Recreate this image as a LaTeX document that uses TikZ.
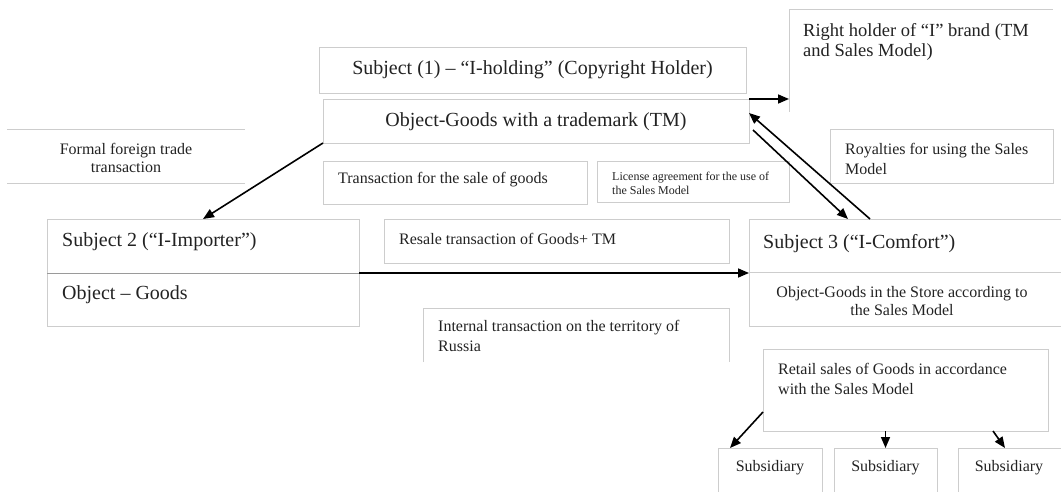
\documentclass[tikz,border=0pt]{standalone}
\usepackage{fontspec}
\setmainfont{Liberation Serif}
\usetikzlibrary{arrows.meta}
\definecolor{boxgray}{HTML}{CDCDCD}
\definecolor{rulegray}{HTML}{9A9A9A}
\definecolor{inkgray}{HTML}{222222}

\begin{document}
\begin{tikzpicture}[x=1pt, y=-1pt,
		box/.style={draw=boxgray, line width=0.8pt, inner sep=0pt, outer sep=0pt},
		frame/.style={inner sep=0pt, outer sep=0pt},
		edge/.style={draw=boxgray, line width=0.8pt},
		arr/.style={-{Triangle[length=11pt, width=9pt]}, line width=1.6pt},
		txt/.style={inner sep=0pt, text=inkgray, font=\fontsize{16}{19}\selectfont},
		big/.style={txt, font=\fontsize{20}{23}\selectfont},
		small/.style={txt, font=\fontsize{12}{14}\selectfont}]
		\useasboundingbox (0,0) rectangle (1061,492);

		\node [box, minimum width=427pt, minimum height=46pt] (0) at (532.5, 70) {};
		\node [box, minimum width=426pt, minimum height=44pt] (1) at (536, 121) {};
		\node [frame, minimum width=264pt, minimum height=103pt] (2) at (921, 60.5) {};
		\node [frame, minimum width=238pt, minimum height=54pt] (3) at (126, 156) {};
		\node [box, minimum width=264pt, minimum height=43pt] (4) at (455, 182.5) {};
		\node [box, minimum width=192pt, minimum height=41pt] (5) at (693, 181.5) {};
		\node [box, minimum width=223pt, minimum height=54pt] (6) at (941.5, 156) {};
		\node [box, minimum width=312pt, minimum height=54pt] (7) at (203, 246) {};
		\node [box, minimum width=312pt, minimum height=53pt] (8) at (203, 299.5) {};
		\node [box, minimum width=345pt, minimum height=44pt] (9) at (556.5, 241) {};
		\node [box, minimum width=314pt, minimum height=53pt] (10) at (906, 245.5) {};
		\node [box, minimum width=314pt, minimum height=54pt] (11) at (906, 299) {};
		\node [frame, minimum width=306pt, minimum height=54pt] (12) at (576, 335) {};
		\node [box, minimum width=285pt, minimum height=82pt] (13) at (905.5, 390) {};
		\node [frame, minimum width=104pt, minimum height=50pt] (14) at (770, 473) {};
		\node [frame, minimum width=103pt, minimum height=50pt] (15) at (885.5, 473) {};
		\node [frame, minimum width=104pt, minimum height=50pt] (16) at (1010, 473) {};

		\draw [edge] (2.south west) to (2.north west) to (2.north east);
		\draw [edge] (3.north west) to (3.north east);
		\draw [edge] (3.south west) to (3.south east);
		\draw [edge] (12.south west) to (12.north west) to (12.north east) to (12.south east);
		\draw [edge] (14.south west) to (14.north west) to (14.north east) to (14.south east);
		\draw [edge] (15.south west) to (15.north west) to (15.north east) to (15.south east);
		\draw [edge] (16.south west) to (16.north west) to (16.north east) to (16.south east);
		\draw [rulegray, line width=0.8pt] (7.south west) to (7.south east);

		\node [big] (20) at (532.5, 70) {Subject (1) – “I-holding” (Copyright Holder)};
		\node [big] (21) at (536, 122) {Object-Goods with a trademark (TM)};
		\node [txt, font=\fontsize{18.5}{20.5}\selectfont, anchor=west, align=left] (22) at (803, 42) {Right holder of “I” brand (TM\\and Sales Model)};
		\node [txt, align=center, font=\fontsize{16}{18}\selectfont] (23) at (126, 158) {Formal foreign trade\\transaction};
		\node [txt, anchor=west] (24) at (338, 179.6) {Transaction for the sale of goods};
		\node [small, anchor=west, align=left] (25) at (612, 183) {License agreement for the use of\\the Sales Model};
		\node [txt, anchor=west, align=left, font=\fontsize{16}{20}\selectfont] (26) at (845, 159) {Royalties for using the Sales\\Model};
		\node [big, anchor=west] (27) at (62, 242) {Subject 2 (“I-Importer”)};
		\node [big, anchor=west] (28) at (62, 295) {Object – Goods};
		\node [txt, anchor=west] (29) at (399, 238.6) {Resale transaction of Goods+ TM};
		\node [big, anchor=west] (30) at (763, 244) {Subject 3 (“I-Comfort”)};
		\node [txt, align=center, font=\fontsize{16}{18}\selectfont] (31) at (902, 301) {Object-Goods in the Store according to\\the Sales Model};
		\node [txt, anchor=west, align=left, font=\fontsize{16}{20}\selectfont] (32) at (438, 336) {Internal transaction on the territory of\\Russia};
		\node [txt, anchor=west, align=left, font=\fontsize{16}{20}\selectfont] (33) at (778, 379) {Retail sales of Goods in accordance\\with the Sales Model};
		\node [txt] (34) at (770, 467.6) {Subsidiary};
		\node [txt] (35) at (885.5, 467.6) {Subsidiary};
		\node [txt] (36) at (1009, 467.6) {Subsidiary};

		\draw [arr] (1.north east) to (1.north east -| 2.west);
		\draw [arr] (1.south west) to (7.north);
		\draw [arr] ([xshift=-36pt]10.north) to ([yshift=8pt]1.east);
		\draw [arr] ([shift={(4pt,-9pt)}]1.east) to ([xshift=-58pt]10.north);
		\draw [arr] (7.south east) to (7.south east -| 10.west);
		\draw [arr] ([yshift=-22pt]13.west) to ([xshift=12pt]14.north west);
		\draw [arr] (15.north |- 13.south) to (15.north);
		\draw [arr] ([xshift=87.5pt]13.south) to ([xshift=-5pt]16.north);
\end{tikzpicture}
\end{document}
